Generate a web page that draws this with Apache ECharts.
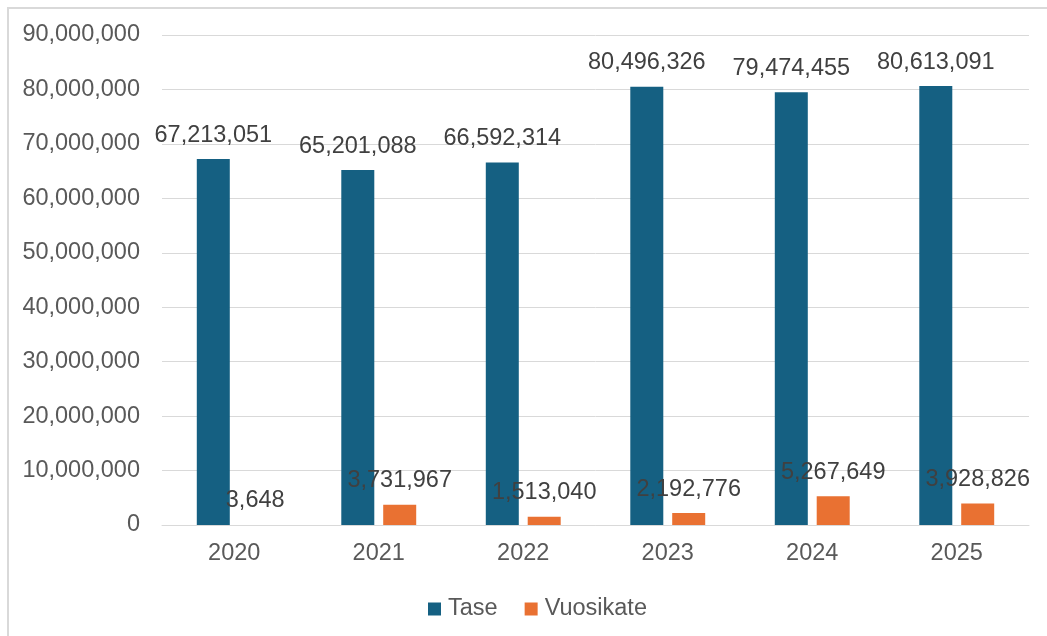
<!DOCTYPE html>
<html><head><meta charset="utf-8">
<script src="https://cdn.jsdelivr.net/npm/echarts@6/dist/echarts.min.js"></script>
<style>html,body{margin:0;padding:0;background:#fff;overflow:hidden}#c{width:1047px;height:636px}
#frame{position:absolute;left:7px;top:7px;width:1100px;height:700px;border:1px solid #d9d9d9;border-width:2px 0 0 2px;box-sizing:border-box;pointer-events:none}</style>
</head><body><div id="c"></div><div id="frame"></div>
<script>
const categories = ['2020','2021','2022','2023','2024','2025'];
const taseValues = [67213051, 65201088, 66592314, 80496326, 79474455, 80613091];
const vuosikateValues = [3648, 3731967, 1513040, 2192776, 5267649, 3928826];
const seriesNames = ['Tase','Vuosikate'];

const fmt = v => Math.round(v).toString().replace(/\B(?=(\d{3})+(?!\d))/g, ',');
const font = '"Liberation Sans", Arial, sans-serif';
const fs = 23.5;
const chart = echarts.init(document.getElementById('c'));
const lbl = {show:true, position:'top', distance:12, color:'#404040', fontSize:fs, fontFamily:font, formatter:p=>fmt(p.value)};
chart.setOption({
  animation:false,
  textStyle:{fontFamily:font},
  grid:{left:162, right:18, top:35, bottom:111, containLabel:false},
  legend:{bottom:10, left:423, itemWidth:13, itemHeight:13, itemGap:27, icon:'rect',
    textStyle:{color:'#595959', fontSize:fs, fontFamily:font, padding:[0,0,0,2]}, data:seriesNames},
  xAxis:{type:'category', data:categories,
    axisLine:{lineStyle:{color:'#d9d9d9', width:1}}, axisTick:{show:false},
    axisLabel:{color:'#595959', fontSize:fs, fontFamily:font, margin:17}},
  yAxis:{type:'value', min:0, max:90000000, interval:10000000,
    axisLine:{show:false}, axisTick:{show:false},
    splitLine:{lineStyle:{color:'#d9d9d9', width:1}},
    axisLabel:{color:'#595959', fontSize:fs, fontFamily:font, margin:22, formatter:v=>fmt(v)}},
  series:[
    {name:seriesNames[0], type:'bar', data:taseValues, barWidth:33, barGap:'27%', itemStyle:{color:'#156082'}, label:lbl},
    {name:seriesNames[1], type:'bar', data:vuosikateValues, barWidth:33, itemStyle:{color:'#e97132'}, label:lbl}
  ]
});
</script></body></html>
